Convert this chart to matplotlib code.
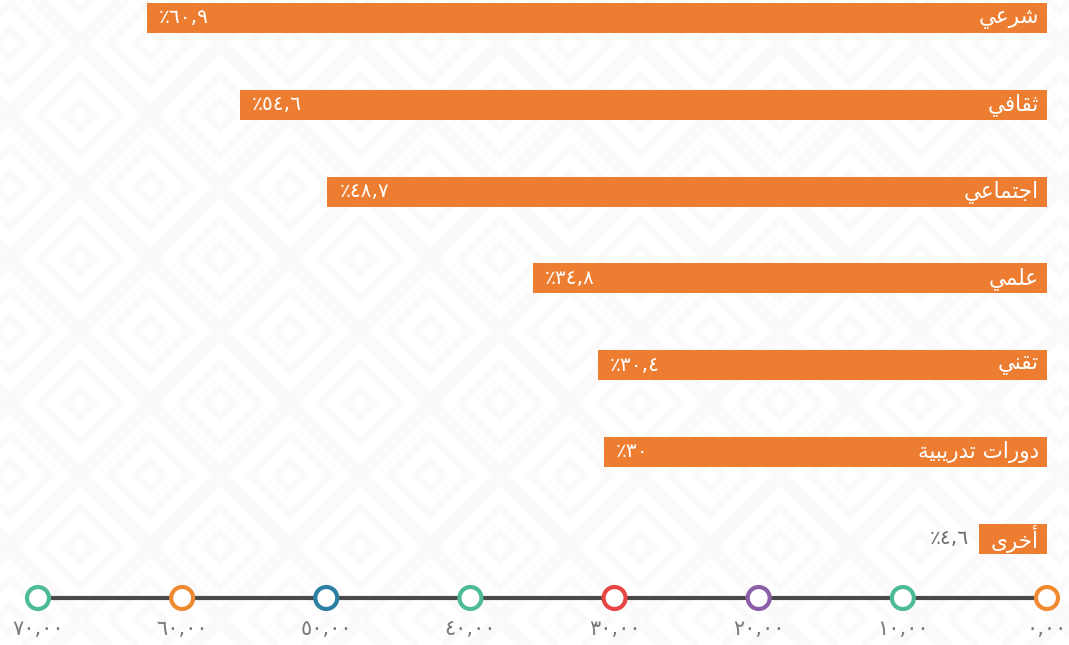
import numpy as np
import matplotlib.pyplot as plt
from matplotlib.patches import Polygon

# Data
categories = ['شرعي', 'ثقافي', 'اجتماعي', 'علمي', 'تقني', 'دورات تدريبية', 'أخرى']
values = [60.9, 54.6, 48.7, 34.8, 30.4, 30.0, 4.6]
tick_vals = [0, 10, 20, 30, 40, 50, 60, 70]
tick_colors = ['#f08a30', '#4dbb98', '#8b5fa8', '#e84545', '#4dbb98', '#2b7fa0', '#f08a30', '#4dbb98']

bar_color = '#ed7d31'
line_color = '#4a4a4a'
label_gray = '#6f6f6f'

# Arabic shaping (matplotlib draws left to right, no joining)
# letter: (isolated, final, initial, medial)
FORMS = {
    'ا': (0xFE8D, 0xFE8E, None, None),
    'أ': (0xFE83, 0xFE84, None, None),
    'ب': (0xFE8F, 0xFE90, 0xFE91, 0xFE92),
    'ة': (0xFE93, 0xFE94, None, None),
    'ت': (0xFE95, 0xFE96, 0xFE97, 0xFE98),
    'ث': (0xFE99, 0xFE9A, 0xFE9B, 0xFE9C),
    'ج': (0xFE9D, 0xFE9E, 0xFE9F, 0xFEA0),
    'خ': (0xFEA5, 0xFEA6, 0xFEA7, 0xFEA8),
    'د': (0xFEA9, 0xFEAA, None, None),
    'ر': (0xFEAD, 0xFEAE, None, None),
    'ش': (0xFEB5, 0xFEB6, 0xFEB7, 0xFEB8),
    'ع': (0xFEC9, 0xFECA, 0xFECB, 0xFECC),
    'ف': (0xFED1, 0xFED2, 0xFED3, 0xFED4),
    'ق': (0xFED5, 0xFED6, 0xFED7, 0xFED8),
    'ل': (0xFEDD, 0xFEDE, 0xFEDF, 0xFEE0),
    'م': (0xFEE1, 0xFEE2, 0xFEE3, 0xFEE4),
    'ن': (0xFEE5, 0xFEE6, 0xFEE7, 0xFEE8),
    'و': (0xFEED, 0xFEEE, None, None),
    'ى': (0xFEEF, 0xFEF0, None, None),
    'ي': (0xFEF1, 0xFEF2, 0xFEF3, 0xFEF4),
}


def shape(word):
    out = []
    for i, ch in enumerate(word):
        if ch not in FORMS:
            out.append(ch)
            continue
        prev = word[i - 1] if i > 0 else ''
        nxt = word[i + 1] if i + 1 < len(word) else ''
        jp = prev in FORMS and FORMS[prev][2] is not None
        jn = nxt in FORMS and FORMS[ch][2] is not None
        iso, fin, ini, med = FORMS[ch]
        if jp and jn:
            c = med
        elif jp:
            c = fin
        elif jn:
            c = ini
        else:
            c = iso
        out.append(chr(c))
    return ''.join(reversed(out))


AR_DIGITS = str.maketrans('0123456789', '٠١٢٣٤٥٦٧٨٩')


def pct_label(v):
    s = ('%d' % v) if v == int(v) else ('%.1f' % v).replace('.', ',')
    return '٪' + s.translate(AR_DIGITS)


def tick_label(v):
    return ('%.2f' % v).replace('.', ',').translate(AR_DIGITS)


plt.rcParams['font.family'] = ['DejaVu Sans']

W, H = 1069, 645
fig = plt.figure(figsize=(W / 100, H / 100), dpi=100)

# faint diamond background
bg = fig.add_axes([0, 0, 1, 1])
bg.set_xlim(0, W)
bg.set_ylim(H, 0)
bg.axis('off')
for cx0, cy0 in [(10, 43), (80, 115)]:
    for cx in np.arange(cx0 - 140, W + 140, 140):
        for cy in np.arange(cy0 - 144, H + 144, 144):
            for r in [14, 40, 66]:
                bg.add_patch(Polygon([(cx - r, cy), (cx, cy - r), (cx + r, cy), (cx, cy + r)],
                                     closed=True, fill=False, ec='#fbf9f9', lw=5))

# bars
px_unit = 14.78
ax = fig.add_axes([0, (H - 570) / H, 1047 / W, 570 / H])
ax.patch.set_alpha(0)
ax.set_xlim(1047 / px_unit, 0)
ax.set_ylim(6.36, -0.207)
ax.axis('off')

y = np.arange(len(categories))
ax.barh(y, values, height=0.345, color=bar_color, zorder=2)

pad = 8 / px_unit
for yi, cat, v in zip(y, categories, values):
    ax.text(pad, yi, shape(cat), ha='right', va='center', color='white', fontsize=15.5, zorder=3)
    if v > 10:
        ax.text(v - 12 / px_unit, yi, pct_label(v), ha='left', va='center', color='white',
                fontsize=14.5, zorder=3)
    else:
        ax.text(v + 10 / px_unit, yi, pct_label(v), ha='right', va='center', color=label_gray,
                fontsize=14.5, zorder=3)

# timeline axis
tl = fig.add_axes([38 / W, (H - 608) / H, 1009 / W, 20 / H])
tl.patch.set_alpha(0)
tl.set_xlim(70, 0)
tl.set_ylim(-1, 1)
tl.axis('off')
tl.plot([0, 70], [0, 0], color=line_color, lw=3, zorder=1, clip_on=False)
tl.scatter(tick_vals, np.zeros(len(tick_vals)), s=250, facecolor='white',
           edgecolor=tick_colors, linewidth=3, zorder=3, clip_on=False)
for v in tick_vals:
    tl.annotate(tick_label(v), (v, 0), xytext=(0, -22), textcoords='offset points',
                ha='center', va='center', color='#7a7a7a', fontsize=15)

fig.savefig('out.png', dpi=100)
